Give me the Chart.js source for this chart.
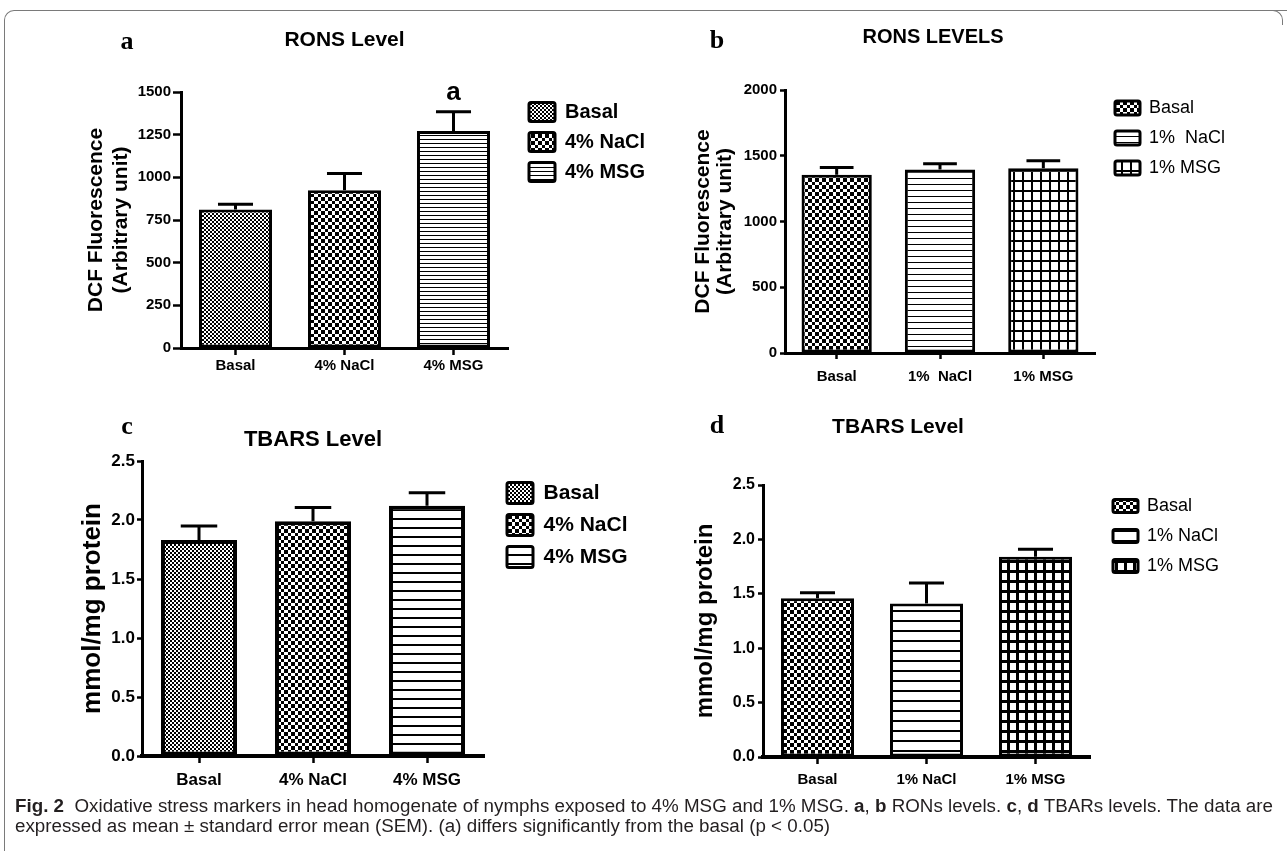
<!DOCTYPE html>
<html>
<head>
<meta charset="utf-8">
<script src="https://cdn.jsdelivr.net/npm/chart.js@4.4.1/dist/chart.umd.min.js"></script>
<style>
html,body{margin:0;padding:0;background:#fff;}
body{width:1287px;height:851px;position:relative;overflow:hidden;font-family:'Liberation Sans',Arial,sans-serif;}
canvas{position:absolute;}
.frame{position:absolute;left:4px;top:10px;width:1290px;height:850px;border-top:1.5px solid #7a7a7a;border-left:1.5px solid #7a7a7a;border-top-left-radius:10px;}
.corner{position:absolute;left:1272px;top:10px;width:10px;height:14px;border-top:1.5px solid #7a7a7a;border-right:1.5px solid #7a7a7a;border-top-right-radius:10px;}
.plabel{position:absolute;font-family:'Liberation Serif','Times New Roman',serif;font-weight:bold;font-size:26px;line-height:1;transform:translateX(-50%);color:#000;}
.caption{position:absolute;left:15px;font-size:18px;line-height:22px;white-space:nowrap;transform-origin:0 50%;color:#231f20;}
</style>
</head>
<body>
<div class="frame"></div>
<div class="corner"></div>
<canvas id="ca" width="626" height="375" style="left:34px;top:15px"></canvas>
<canvas id="cc" width="590" height="390" style="left:60px;top:410px"></canvas>
<canvas id="cb" width="614" height="385" style="left:626px;top:10px"></canvas>
<canvas id="cd" width="664" height="400" style="left:566px;top:400px"></canvas>
<div class="plabel" style="left:127px;top:28px">a</div>
<div class="plabel" style="left:717px;top:27px">b</div>
<div class="plabel" style="left:127px;top:413px">c</div>
<div class="plabel" style="left:717px;top:412px">d</div>
<div id="cap1" class="caption" style="top:795px"><b>Fig. 2</b>&nbsp; Oxidative stress markers in head homogenate of nymphs exposed to 4% MSG and 1% MSG. <b>a</b>, <b>b</b> RONs levels. <b>c</b>, <b>d</b> TBARs levels. The data are</div>
<div id="cap2" class="caption" style="top:815px">expressed as mean ± standard error mean (SEM). (a) differs significantly from the basal (p &lt; 0.05)</div>
<script>
// ---------- data ----------
const catsA = ['Basal', '4% NaCl', '4% MSG'];
const meanA = [812, 925, 1272];
const semA  = [31, 98, 113];
const sigA  = ['', '', 'a'];
const ticksA = [0, 250, 500, 750, 1000, 1250, 1500];

const catsB = ['Basal', '1%  NaCl', '1% MSG'];
const meanB = [1355, 1395, 1405];
const semB  = [55, 45, 57];
const ticksB = [0, 500, 1000, 1500, 2000];

const catsC = ['Basal', '4% NaCl', '4% MSG'];
const meanC = [1.83, 1.99, 2.12];
const semC  = [0.12, 0.115, 0.11];
const ticksC = [0, 0.5, 1.0, 1.5, 2.0, 2.5];

const catsD = ['Basal', '1% NaCl', '1% MSG'];
const meanD = [1.46, 1.41, 1.84];
const semD  = [0.05, 0.19, 0.07];
const ticksD = [0, 0.5, 1.0, 1.5, 2.0, 2.5];

const titleA = 'RONS Level', titleB = 'RONS LEVELS', titleC = 'TBARS Level', titleD = 'TBARS Level';
const yTitleAB = ['DCF Fluorescence', '(Arbitrary unit)'];
const yTitleCD = 'mmol/mg protein';

// ---------- helpers ----------
Chart.defaults.font.family = "'Liberation Sans', Arial, sans-serif";
Chart.defaults.color = '#000';

function pat(w, h, draw) {
  const c = document.createElement('canvas'); c.width = w; c.height = h;
  const x = c.getContext('2d'); x.fillStyle = '#fff'; x.fillRect(0, 0, w, h); x.fillStyle = '#000'; draw(x);
  return x.createPattern(c, 'repeat');
}
const fineChecker = () => pat(4, 4, x => { x.fillRect(0, 0, 2, 2); x.fillRect(2, 2, 2, 2); });
const medChecker = () => pat(7, 7, x => { x.fillRect(0, 0, 4, 4); x.fillRect(4, 4, 3, 3); });
const hLines = (p, t) => pat(4, p, x => x.fillRect(0, 0, 4, t));
const grid = (pw, ph, t) => pat(pw, ph, x => { x.fillRect(0, 0, pw, t); x.fillRect(0, 0, t, ph); });

function errPlugin(sem, sig, capFrac, lw, sigFont) {
  return {
    id: 'errbars',
    afterDatasetsDraw(chart) {
      const ctx = chart.ctx, ys = chart.scales.y, meta = chart.getDatasetMeta(0);
      const data = chart.data.datasets[0].data;
      ctx.save();
      ctx.strokeStyle = '#000'; ctx.lineWidth = lw; ctx.lineCap = 'butt';
      meta.data.forEach((bar, i) => {
        const top = ys.getPixelForValue(data[i] + sem[i]);
        const base = ys.getPixelForValue(data[i]);
        const half = bar.width * capFrac / 2;
        ctx.beginPath();
        ctx.moveTo(bar.x, base); ctx.lineTo(bar.x, top);
        ctx.moveTo(bar.x - half, top); ctx.lineTo(bar.x + half, top);
        ctx.stroke();
        if (sig && sig[i]) {
          ctx.fillStyle = '#000'; ctx.font = sigFont; ctx.textAlign = 'center'; ctx.textBaseline = 'alphabetic';
          ctx.fillText(sig[i], bar.x, top - 12);
        }
      });
      ctx.restore();
    }
  };
}

function legendFix(W, dx, dy) {
  return {
    id: 'legendFix',
    beforeLayout(chart) {
      const lg = chart.legend;
      if (lg && !lg.__fx) { const f = lg.fit; lg.fit = function () { f.call(this); this.width = W; }; lg.__fx = true; }
    },
    afterLayout(chart) {
      const lg = chart.legend;
      lg.left += dx; lg.right += dx; lg.top += dy; lg.bottom += dy;
    }
  };
}

function makePanel(id, p) {
  const ctx = document.getElementById(id).getContext('2d');
  new Chart(ctx, {
    type: 'bar',
    data: {
      labels: p.cats,
      datasets: [{
        data: p.mean,
        backgroundColor: p.fills,
        borderColor: '#000',
        borderWidth: p.barBorder,
        borderSkipped: false,
        categoryPercentage: 1,
        barPercentage: p.barPct
      }]
    },
    options: {
      responsive: false, maintainAspectRatio: false, devicePixelRatio: 1, animation: false, events: [],
      layout: { padding: 0 },
      scales: {
        x: {
          ticks: { font: { size: p.xFont, weight: 'bold' }, color: '#000', padding: p.xPad, maxRotation: 0 },
          grid: { offset: false, drawOnChartArea: false, drawTicks: true, tickLength: p.xTickLen, tickWidth: 2.5, tickColor: '#000' },
          border: { display: true, color: '#000', width: p.xBorder },
          afterFit: s => { s.height = p.xH; }
        },
        y: {
          min: 0, max: p.ticks[p.ticks.length - 1],
          afterBuildTicks: s => { s.ticks = p.ticks.map(v => ({ value: v })); },
          ticks: { font: { size: p.yFont, weight: 'bold' }, color: '#000', padding: p.yPad,
                   callback: v => p.dec ? Number(v).toFixed(p.dec) : String(v) },
          grid: { drawOnChartArea: false, drawTicks: true, tickLength: p.yTickLen, tickWidth: 2.5, tickColor: '#000' },
          border: { display: true, color: '#000', width: p.yBorder },
          title: { display: true, text: p.yTitle, color: '#000',
                   font: { size: p.yTitleFont, weight: 'bold', lineHeight: p.yTitleLH },
                   padding: { top: p.yTitlePad, bottom: 0 } },
          afterFit: s => { s.width = p.yW; }
        }
      },
      plugins: {
        tooltip: { enabled: false },
        title: { display: true, text: p.title, color: '#000', fullSize: p.titleFull,
                 font: { size: p.titleFont, weight: 'bold', lineHeight: 1.2 },
                 padding: { top: p.titlePT, bottom: p.titlePB } },
        legend: {
          display: true, position: 'right', align: 'start', fullSize: false,
          labels: {
            boxWidth: p.boxW, boxHeight: p.boxH, padding: p.legPad, color: '#000',
            useBorderRadius: true, borderRadius: 2,
            font: { size: p.legFont, weight: p.legWeight },
            generateLabels: chart => chart.data.labels.map((t, i) => ({
              text: t, fillStyle: chart.data.datasets[0].backgroundColor[i],
              strokeStyle: '#000', lineWidth: 3, hidden: false, index: i, fontColor: '#000', borderRadius: 2
            }))
          }
        }
      }
    },
    plugins: [errPlugin(p.sem, p.sig, 0.48, 3, p.sigFont), legendFix(p.legW, p.legDx, p.legDy)]
  });
}

makePanel('ca', {
  cats: catsA, mean: meanA, sem: semA, sig: sigA, ticks: ticksA, dec: 0,
  fills: [fineChecker(), medChecker(), hLines(4, 1)],
  barBorder: 3, barPct: 0.67,
  xFont: 15, xPad: 2, xTickLen: 7, xBorder: 3, xH: 42,
  yFont: 15, yPad: 2, yTickLen: 8, yBorder: 3, yW: 147,
  yTitle: yTitleAB, yTitleFont: 21, yTitleLH: 1.2, yTitlePad: 49.4,
  title: titleA, titleFull: false, titleFont: 21, titlePT: 12.4, titlePB: 39.4,
  boxW: 26, boxH: 19, legPad: 10, legFont: 20, legWeight: 'bold', legW: 152, legDx: 11, legDy: 0,
  sigFont: "bold 26px 'Liberation Sans', Arial, sans-serif"
});

makePanel('cb', {
  cats: catsB, mean: meanB, sem: semB, sig: null, ticks: ticksB, dec: 0,
  fills: [medChecker(), hLines(6, 1), grid(9, 10, 2)],
  barBorder: 3, barPct: 0.68,
  xFont: 15, xPad: 9, xTickLen: 6, xBorder: 3, xH: 42,
  yFont: 15, yPad: 3, yTickLen: 5, yBorder: 3, yW: 159,
  yTitle: yTitleAB, yTitleFont: 21, yTitleLH: 1.05, yTitlePad: 66,
  title: titleB, titleFull: true, titleFont: 20, titlePT: 15, titlePB: 41,
  boxW: 25, boxH: 14, legPad: 12, legFont: 18, legWeight: 'normal', legW: 145, legDx: 8, legDy: -3,
  sigFont: ''
});

makePanel('cc', {
  cats: catsC, mean: meanC, sem: semC, sig: null, ticks: ticksC, dec: 1,
  fills: [fineChecker(), medChecker(), hLines(9, 2)],
  barBorder: 4, barPct: 0.667,
  xFont: 17, xPad: 7, xTickLen: 7, xBorder: 4, xH: 44,
  yFont: 17, yPad: 2, yTickLen: 5, yBorder: 3, yW: 82,
  yTitle: yTitleCD, yTitleFont: 26, yTitleLH: 1.2, yTitlePad: 17.4,
  title: titleC, titleFull: false, titleFont: 22, titlePT: 16.8, titlePB: 7.8,
  boxW: 26, boxH: 21, legPad: 11, legFont: 21, legWeight: 'bold', legW: 166, legDx: 12, legDy: 10.5,
  sigFont: ''
});

makePanel('cd', {
  cats: catsD, mean: meanD, sem: semD, sig: null, ticks: ticksD, dec: 1,
  fills: [medChecker(), hLines(10, 2), grid(9, 10, 3)],
  barBorder: 3, barPct: 0.67,
  xFont: 15, xPad: 7, xTickLen: 7, xBorder: 4, xH: 43,
  yFont: 16, yPad: 3, yTickLen: 5, yBorder: 3, yW: 197,
  yTitle: yTitleCD, yTitleFont: 24, yTitleLH: 1.2, yTitlePad: 124.6,
  title: titleD, titleFull: true, titleFont: 21, titlePT: 14.4, titlePB: 45.4,
  boxW: 25, boxH: 13, legPad: 12, legFont: 18, legWeight: 'normal', legW: 140, legDx: 11, legDy: 0,
  sigFont: ''
});

// caption width fit
const c1 = document.getElementById('cap1'), c2 = document.getElementById('cap2');
const k = 1258 / c1.scrollWidth;
c1.style.transform = 'scaleX(' + k + ')';
c2.style.transform = 'scaleX(' + k + ')';
</script>
</body>
</html>
